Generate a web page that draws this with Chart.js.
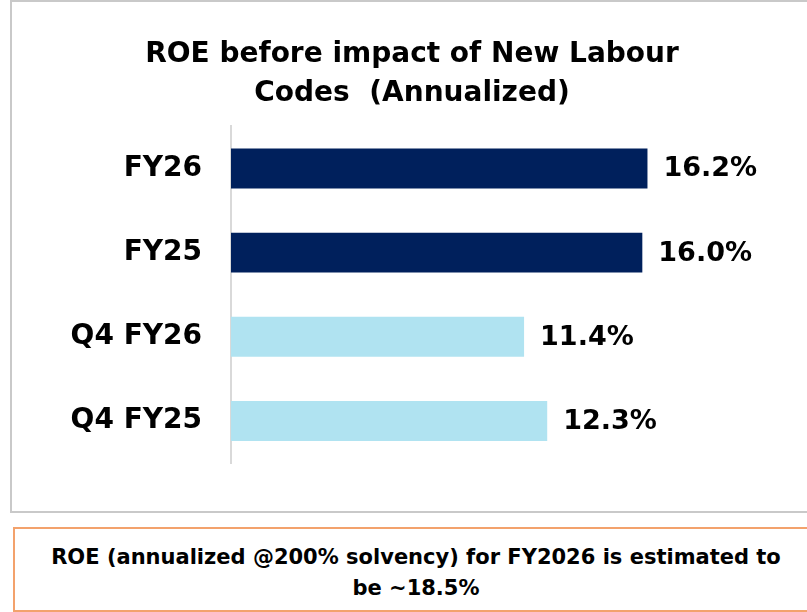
<!DOCTYPE html>
<html>
<head>
<meta charset="utf-8">
<script src="https://cdn.jsdelivr.net/npm/chart.js@4.4.1/dist/chart.umd.min.js"></script>
<style>
  html, body { margin: 0; padding: 0; background: #fff; overflow: hidden; width: 807px; height: 612px; }
  .chart-box {
    position: absolute; left: 10px; top: 0; width: 800px; height: 509px;
    border: 2px solid #c9c9c9;
  }
  .note {
    position: absolute; left: 13px; top: 527px; width: 806px; height: 85px;
    box-sizing: border-box; border: 2px solid #f3a26c;
    font-family: "DejaVu Sans", sans-serif; font-weight: 700; font-size: 21px;
    line-height: 31px; text-align: center; padding-top: 13px; color: #000;
  }
</style>
</head>
<body>
<div class="chart-box"><canvas id="roeChart" width="800" height="509"></canvas></div>
<div class="note">ROE (annualized @200% solvency) for FY2026 is estimated to<br>be ~18.5%</div>
<script>
const categories = ['FY26', 'FY25', 'Q4 FY26', 'Q4 FY25'];
const roeValues = [16.2, 16.0, 11.4, 12.3];
const barColors = ['#00205c', '#00205c', '#b0e3f1', '#b0e3f1'];

const FONT = '"DejaVu Sans", sans-serif';

// draws the % labels next to each bar
const valueLabels = {
  id: 'valueLabels',
  afterDatasetsDraw(chart) {
    const ctx = chart.ctx;
    const meta = chart.getDatasetMeta(0);
    ctx.save();
    ctx.font = 'bold 27px ' + FONT;
    ctx.fillStyle = '#000';
    ctx.textAlign = 'left';
    ctx.textBaseline = 'middle';
    meta.data.forEach((bar, i) => {
      ctx.fillText(roeValues[i].toFixed(1) + '%', bar.x + 16, bar.y + 1);
    });
    ctx.restore();
  }
};

const ctx = document.getElementById('roeChart').getContext('2d');
new Chart(ctx, {
  type: 'bar',
  data: {
    labels: categories,
    datasets: [{
      data: roeValues,
      backgroundColor: barColors,
      barPercentage: 0.475,
      categoryPercentage: 1
    }]
  },
  options: {
    indexAxis: 'y',
    responsive: false,
    animation: false,
    layout: { padding: { bottom: 48 } },
    plugins: {
      legend: { display: false },
      tooltip: { enabled: false },
      title: {
        display: true,
        text: ['ROE before impact of New Labour', 'Codes  (Annualized)'],
        color: '#000',
        font: { family: FONT, size: 28, weight: 'bold', lineHeight: 1.4 },
        padding: { top: 33, bottom: 13 }
      }
    },
    scales: {
      x: { display: false, min: 0, max: 22.6 },
      y: {
        grid: { display: false },
        border: { display: true, color: '#d9d9d9', width: 2 },
        ticks: {
          color: '#000',
          padding: 21,
          font: { family: FONT, size: 28, weight: 'bold' }
        },
        afterFit(scale) { scale.width = 219; }
      }
    }
  },
  plugins: [valueLabels]
});
</script>
</body>
</html>
